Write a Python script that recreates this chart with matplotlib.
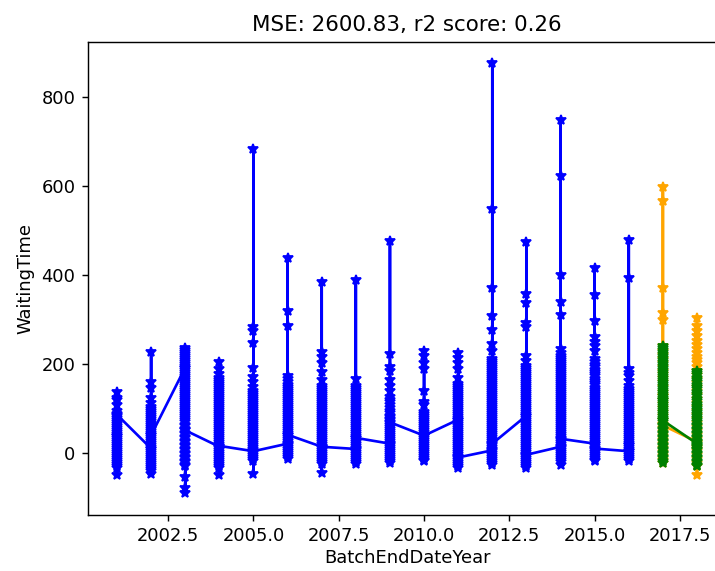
import numpy as np
import matplotlib
matplotlib.use('Agg')
import matplotlib.pyplot as plt

# Waiting times per batch end year (training set, 2001-2016)
train_years = [2001, 2002, 2003, 2004, 2005, 2006, 2007, 2008,
               2009, 2010, 2011, 2012, 2013, 2014, 2015, 2016]

wt_2001 = [40, 139, 125, 119, 108, 96, 89, 85, 80, 76, 71, 67, 62, 58, 53, 49, 44, 40, 35, 31, 26, 22, 17, 13,
           8, 4, -1, -5, -10, -14, -19, -23, -28, -33, -48, 87]
wt_2002 = [11, 227, 160, 146, 125, 114, 104, 100, 95, 91, 86, 82, 77, 73, 68, 64, 59, 55, 50, 46, 41, 37, 32, 28,
           23, 19, 14, 10, 5, 1, -4, -8, -13, -17, -22, -26, -31, -35, -40, -46, 41]
wt_2003 = [193, 236, 232, 227, 223, 218, 214, 209, 205, 200, 196, 191, 187, 182, 178, 173, 169, 164, 160, 155,
           151, 146, 142, 137, 133, 128, 124, 119, 115, 110, 106, 101, 97, 92, 88, 83, 79, 74, 70, 65, 61, 56,
           52, 47, 43, 38, 34, 29, 25, 20, 16, 11, 7, 2, -2, -7, -11, -16, -20, -25, -29, -52, -78, -90, 52]
wt_2004 = [15, 206, 189, 178, 170, 165, 161, 156, 152, 147, 143, 138, 134, 129, 125, 120, 116, 111, 107, 102,
           98, 93, 89, 84, 80, 75, 71, 66, 62, 57, 53, 48, 44, 39, 35, 30, 26, 21, 17, 12, 8, 3, -1, -6, -10,
           -15, -19, -24, -28, -33, -48, 17]
wt_2005 = [5, 685, 285, 274, 249, 193, 171, 160, 150, 140, 136, 131, 127, 122, 118, 113, 109, 104, 100, 95,
           91, 86, 82, 77, 73, 68, 64, 59, 55, 50, 46, 41, 37, 32, 28, 23, 19, 14, 10, 5, 1, -4, -8, -13, -18,
           -47, 5]
wt_2006 = [22, 438, 319, 286, 174, 167, 160, 154, 149, 145, 140, 136, 131, 127, 122, 118, 113, 109, 104, 100,
           95, 91, 86, 82, 77, 73, 68, 64, 59, 55, 50, 46, 41, 37, 32, 28, 23, 19, 14, 10, 5, 1, -4, -8, -13, 42]
wt_2007 = [15, 386, 227, 216, 204, 182, 165, 152, 147, 143, 138, 134, 129, 125, 120, 116, 111, 107, 102, 98,
           93, 89, 84, 80, 75, 71, 66, 62, 57, 53, 48, 44, 39, 35, 30, 26, 21, 17, 12, 8, 3, -1, -6, -10, -15,
           -19, -24, -45, 15]
wt_2008 = [10, 390, 167, 152, 148, 143, 139, 134, 130, 125, 121, 116, 112, 107, 103, 98, 94, 89, 85, 80, 76,
           71, 67, 62, 58, 53, 49, 44, 40, 35, 31, 26, 22, 17, 13, 8, 4, -1, -5, -10, -14, -19, -24, 35]
wt_2009 = [22, 477, 223, 195, 186, 165, 152, 140, 127, 121, 115, 108, 102, 95, 90, 85, 82, 78, 74, 69, 65, 60,
           56, 51, 47, 42, 38, 33, 29, 24, 20, 15, 11, 6, 2, -3, -7, -12, -16, -22, 70]
wt_2010 = [40, 230, 219, 204, 189, 141, 115, 108, 93, 89, 84, 80, 75, 71, 66, 62, 57, 53, 48, 44, 39, 35, 30,
           26, 21, 17, 12, 8, 3, -1, -6, -10, -15, -18, 40]
wt_2011 = [76, 225, 215, 204, 189, 170, 156, 152, 147, 143, 138, 134, 129, 125, 120, 116, 111, 107, 102, 98,
           93, 89, 84, 80, 75, 71, 66, 62, 57, 53, 48, 44, 39, 35, 30, 26, 21, 17, 12, 8, 3, -1, -6, -10, -15,
           -19, -24, -28, -33, -9]
wt_2012 = [7, 876, 550, 372, 308, 278, 245, 230, 212, 207, 203, 198, 194, 189, 185, 180, 176, 171, 167, 162,
           158, 153, 149, 144, 140, 135, 131, 126, 122, 117, 113, 108, 104, 99, 95, 90, 86, 81, 77, 72, 68, 63,
           59, 54, 50, 45, 41, 36, 32, 27, 23, 18, 14, 9, 5, 0, -4, -9, -13, -18, -22, -26, 22]
wt_2013 = [85, 474, 359, 338, 294, 283, 219, 208, 197, 192, 188, 183, 179, 174, 170, 165, 161, 156, 152, 147,
           143, 138, 134, 129, 125, 120, 116, 111, 107, 102, 98, 93, 89, 84, 80, 75, 71, 66, 62, 57, 53, 48,
           44, 39, 35, 30, 26, 21, 17, 12, 8, 3, -1, -6, -10, -15, -19, -24, -28, -33, -3]
wt_2014 = [15, 748, 624, 401, 341, 312, 234, 226, 219, 214, 210, 205, 201, 196, 192, 187, 183, 178, 174, 169,
           165, 160, 156, 151, 147, 142, 138, 133, 129, 124, 120, 115, 111, 106, 102, 97, 93, 88, 84, 79, 75,
           70, 66, 61, 57, 52, 48, 43, 39, 34, 30, 25, 21, 16, 12, 7, 3, -2, -6, -11, -15, -20, -26, 33]
wt_2015 = [22, 416, 356, 297, 262, 250, 241, 230, 212, 205, 199, 194, 188, 183, 178, 173, 168, 163, 158, 153,
           148, 143, 139, 134, 129, 124, 120, 115, 111, 106, 102, 97, 93, 88, 84, 79, 75, 70, 66, 61, 57, 52,
           48, 43, 39, 34, 30, 25, 21, 16, 12, 7, 3, -2, -6, -11, -15, -18, 11]
wt_2016 = [5, 480, 393, 189, 180, 174, 163, 152, 145, 141, 136, 132, 127, 123, 118, 114, 109, 105, 100, 96,
           91, 87, 82, 78, 73, 69, 64, 60, 55, 51, 46, 42, 37, 33, 28, 24, 19, 15, 10, 6, 1, -3, -8, -12, -18, 20]

train_values = [wt_2001, wt_2002, wt_2003, wt_2004, wt_2005, wt_2006, wt_2007, wt_2008,
                wt_2009, wt_2010, wt_2011, wt_2012, wt_2013, wt_2014, wt_2015, wt_2016]

# Test set (actual) and model predictions for 2017-2018
test_years = [2017, 2018]

actual_2017 = [130, 598, 568, 372, 316, 300, 241, 230, 221, 212, 204, 195, 186, 178, 169, 160, 150, 138, 129,
               120, 111, 102, 93, 84, 75, 66, 57, 48, 39, 30, 21, 12, 3, -6, -14, -22, 63]
actual_2018 = [26, 304, 286, 275, 263, 252, 243, 234, 225, 216, 210, 204, 195, 186, 177, 168, 159, 150, 141,
               132, 123, 114, 105, 96, 87, 78, 69, 60, 51, 42, 33, 24, 15, 6, -3, -12, -21, -29, -48, 10]
pred_2017 = [120, 241, 236, 232, 227, 223, 218, 214, 209, 205, 200, 196, 191, 187, 182, 178, 173, 169, 164,
             160, 155, 151, 146, 142, 137, 133, 128, 124, 119, 115, 110, 106, 101, 97, 92, 88, 83, 79, 74, 70,
             65, 61, 56, 52, 47, 43, 38, 34, 29, 25, 20, 16, 11, 7, 2, -2, -7, -11, -16, -22, 74]
pred_2018 = [22, 186, 181, 176, 170, 165, 160, 154, 149, 144, 138, 133, 128, 122, 117, 112, 106, 101, 97, 92,
             88, 83, 79, 74, 70, 65, 61, 56, 52, 47, 43, 38, 34, 29, 25, 20, 16, 11, 7, 2, -2, -7, -11, -16,
             -20, -25, -29, 15]

mse = 2600.83
r2 = 0.26


def flatten(years, values):
    xs, ys = [], []
    for year, vals in zip(years, values):
        xs += [year] * len(vals)
        ys += vals
    return np.array(xs), np.array(ys)


x_train, y_train = flatten(train_years, train_values)
x_test, y_test = flatten(test_years, [actual_2017, actual_2018])
x_pred, y_pred = flatten(test_years, [pred_2017, pred_2018])

DPI = 128.5
fig = plt.figure(figsize=(715 / DPI, 571 / DPI), dpi=DPI)
# axes run slightly past the right edge of the figure
ax = fig.add_axes([88 / 715, 56 / 571, 638 / 715, 473 / 571])

ax.plot(x_train, y_train, '*-', color='blue')
ax.plot(x_test, y_test, '*-', color='orange')
ax.plot(x_pred, y_pred, '*-', color='green')

ax.set_title("MSE: %.2f, r2 score: %.2f" % (mse, r2))
ax.set_xlabel("BatchEndDateYear", labelpad=2)
ax.set_ylabel("WaitingTime")

fig.savefig('out.png', dpi=DPI)
